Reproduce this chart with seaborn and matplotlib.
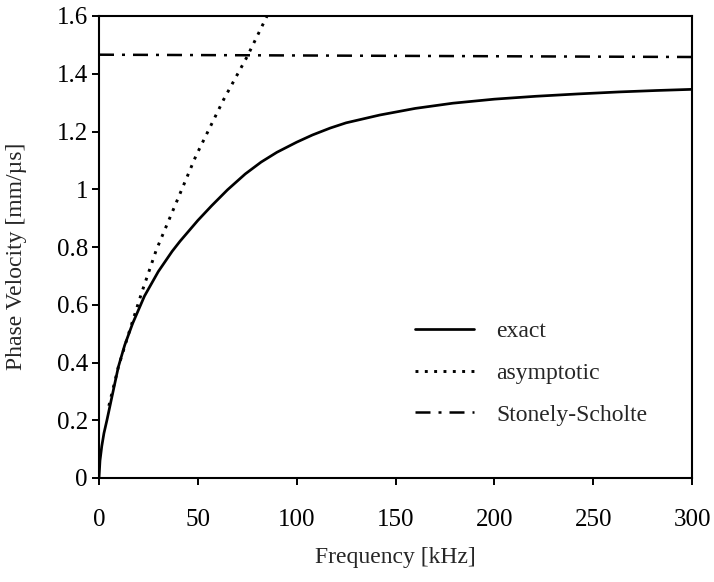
import matplotlib
matplotlib.use("Agg")
import matplotlib.pyplot as plt
import seaborn as sns

# values
freq_exact = [0, 0.5, 1.4, 2.5, 4, 6.5, 9.8, 13, 17, 23, 30, 37, 41, 50, 57, 65, 74,
              82, 90, 100, 108, 117, 125, 142, 160, 179, 200, 221, 242, 263, 282, 300]
vel_exact = [0, 0.06, 0.11, 0.155, 0.2, 0.28, 0.385, 0.46, 0.535, 0.63, 0.715, 0.785,
             0.82, 0.892, 0.943, 0.998, 1.053, 1.094, 1.128, 1.163, 1.188, 1.212, 1.23,
             1.257, 1.28, 1.298, 1.312, 1.322, 1.33, 1.337, 1.342, 1.346]

freq_asym = [5, 9.8, 15, 21.5, 29, 41, 49, 63, 75, 85]
vel_asym = [0.25, 0.385, 0.5, 0.64, 0.79, 0.985, 1.115, 1.31, 1.46, 1.6]

freq_ss = [0, 300]
vel_ss = [1.466, 1.458]

x_ticks = [0, 50, 100, 150, 200, 250, 300]
y_ticks = [0, 0.2, 0.4, 0.6, 0.8, 1.0, 1.2, 1.4, 1.6]
y_tick_labels = ["0", "0.2", "0.4", "0.6", "0.8", "1", "1.2", "1.4", "1.6"]

sns.set_style("ticks")
plt.rcParams['font.family'] = ['Liberation Serif', 'DejaVu Serif']
plt.rcParams['font.size'] = 17

fig = plt.figure(figsize=(7.14, 5.82), dpi=100)
ax = fig.add_axes([99 / 714, 1 - 478 / 582, 593 / 714, 462 / 582])

sns.lineplot(x=freq_exact, y=vel_exact, ax=ax, color="black", lw=1.95,
             label="exact")
sns.lineplot(x=freq_asym, y=vel_asym, ax=ax, color="black", lw=2.1,
             linestyle=(0, (1, 2.2)), label="asymptotic")
sns.lineplot(x=freq_ss, y=vel_ss, ax=ax, color="black", lw=1.8,
             linestyle=(0, (6, 3.2, 1.2, 3.2)), label="Stonely-Scholte")

ax.set_xlim(0, 300)
ax.set_ylim(0, 1.6)
ax.set_xticks(x_ticks)
ax.set_yticks(y_ticks)
ax.set_yticklabels(y_tick_labels)

for s in ax.spines.values():
    s.set_linewidth(1.5)
    s.set_color("black")
ax.tick_params(axis="both", direction="out", length=5, width=1.4, colors="black",
               labelsize=18)
ax.tick_params(axis="x", pad=17)
ax.tick_params(axis="y", pad=3)

ax.set_xlabel("Frequency [kHz]", fontsize=17)
ax.set_ylabel("Phase Velocity [mm/\u00b5s]", fontsize=17)
ax.xaxis.set_label_coords(0.5, -0.15)
ax.yaxis.set_label_coords(-0.122, 0.48)

ax.legend(loc="upper left", bbox_to_anchor=(0.533, 0.34), frameon=False,
          borderaxespad=0, borderpad=0, handlelength=2.5, handletextpad=0.95,
          labelspacing=0.85, fontsize=17)

fig.savefig("out.png", dpi=100)
